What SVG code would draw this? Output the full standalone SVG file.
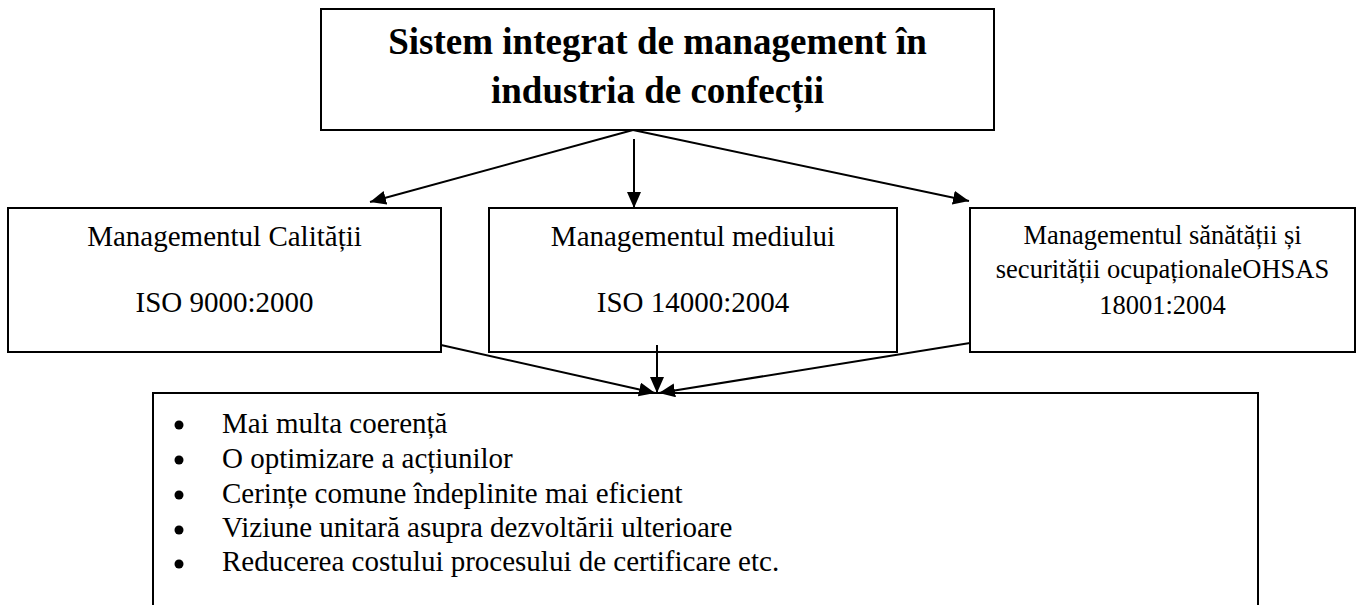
<svg xmlns="http://www.w3.org/2000/svg" width="1356" height="605" viewBox="0 0 1356 605">
<style>
  .box { fill: #ffffff; stroke: #000000; stroke-width: 2; }
  .conn { stroke: #000000; stroke-width: 2; fill: none; marker-end: url(#arrow); }
  .title { font-weight: bold; font-size: 37px; fill: #000; text-anchor: middle; }
  .lbl { font-size: 29px; fill: #000; text-anchor: middle; }
  .lbls { font-size: 26.5px; fill: #000; text-anchor: middle; }
  .item { font-size: 29px; fill: #000; }
</style>
<defs>
  <marker id="arrow" markerUnits="userSpaceOnUse" markerWidth="17" markerHeight="15" refX="16" refY="7" orient="auto">
    <path d="M0,0 L16,7 L0,14 z" fill="#000"/>
  </marker>
</defs>
<rect width="1356" height="605" fill="#ffffff"/>

<g id="top">
  <rect class="box" x="321" y="9" width="673" height="121"/>
  <text class="title" font-family="Liberation Serif" x="657.5" y="54">Sistem integrat de management în</text>
  <text class="title" font-family="Liberation Serif" x="657.5" y="103">industria de confecții</text>
</g>

<g id="calitate">
  <rect class="box" x="8" y="208" width="433" height="144"/>
  <text class="lbl" font-family="Liberation Serif" x="224.5" y="246">Managementul Calității</text>
  <text class="lbl" font-family="Liberation Serif" x="224.5" y="312">ISO 9000:2000</text>
</g>

<g id="mediu">
  <rect class="box" x="489" y="208" width="408" height="144"/>
  <text class="lbl" font-family="Liberation Serif" x="693" y="246">Managementul mediului</text>
  <text class="lbl" font-family="Liberation Serif" x="693" y="312">ISO 14000:2004</text>
</g>

<g id="sanatate">
  <rect class="box" x="970" y="208" width="385" height="144"/>
  <text class="lbls" font-family="Liberation Serif" x="1162.5" y="244">Managementul sănătății și</text>
  <text class="lbls" font-family="Liberation Serif" x="1162.5" y="278">securității ocupaționaleOHSAS</text>
  <text class="lbls" font-family="Liberation Serif" x="1162.5" y="314">18001:2004</text>
</g>

<g id="beneficii">
  <rect class="box" x="153" y="393" width="1105" height="240"/>
  <g fill="#000">
    <circle cx="179" cy="425" r="4.5"/>
    <circle cx="179" cy="460" r="4.5"/>
    <circle cx="179" cy="495" r="4.5"/>
    <circle cx="179" cy="530" r="4.5"/>
    <circle cx="179" cy="564" r="4.5"/>
  </g>
  <text class="item" font-family="Liberation Serif" x="222" y="433">Mai multa coerență</text>
  <text class="item" font-family="Liberation Serif" x="222" y="468">O optimizare a acțiunilor</text>
  <text class="item" font-family="Liberation Serif" x="222" y="503">Cerințe comune îndeplinite mai eficient</text>
  <text class="item" font-family="Liberation Serif" x="222" y="537">Viziune unitară asupra dezvoltării ulterioare</text>
  <text class="item" font-family="Liberation Serif" x="222" y="571">Reducerea costului procesului de certificare etc.</text>
</g>

<g id="connectors">
  <line class="conn" x1="633" y1="130" x2="370" y2="202"/>
  <line class="conn" x1="634" y1="139" x2="634" y2="208"/>
  <line class="conn" x1="633" y1="130" x2="969" y2="201"/>
  <line class="conn" x1="441" y1="345" x2="655" y2="393"/>
  <line class="conn" x1="657" y1="345" x2="657" y2="393"/>
  <line class="conn" x1="970" y1="343" x2="659" y2="393"/>
</g>
</svg>
